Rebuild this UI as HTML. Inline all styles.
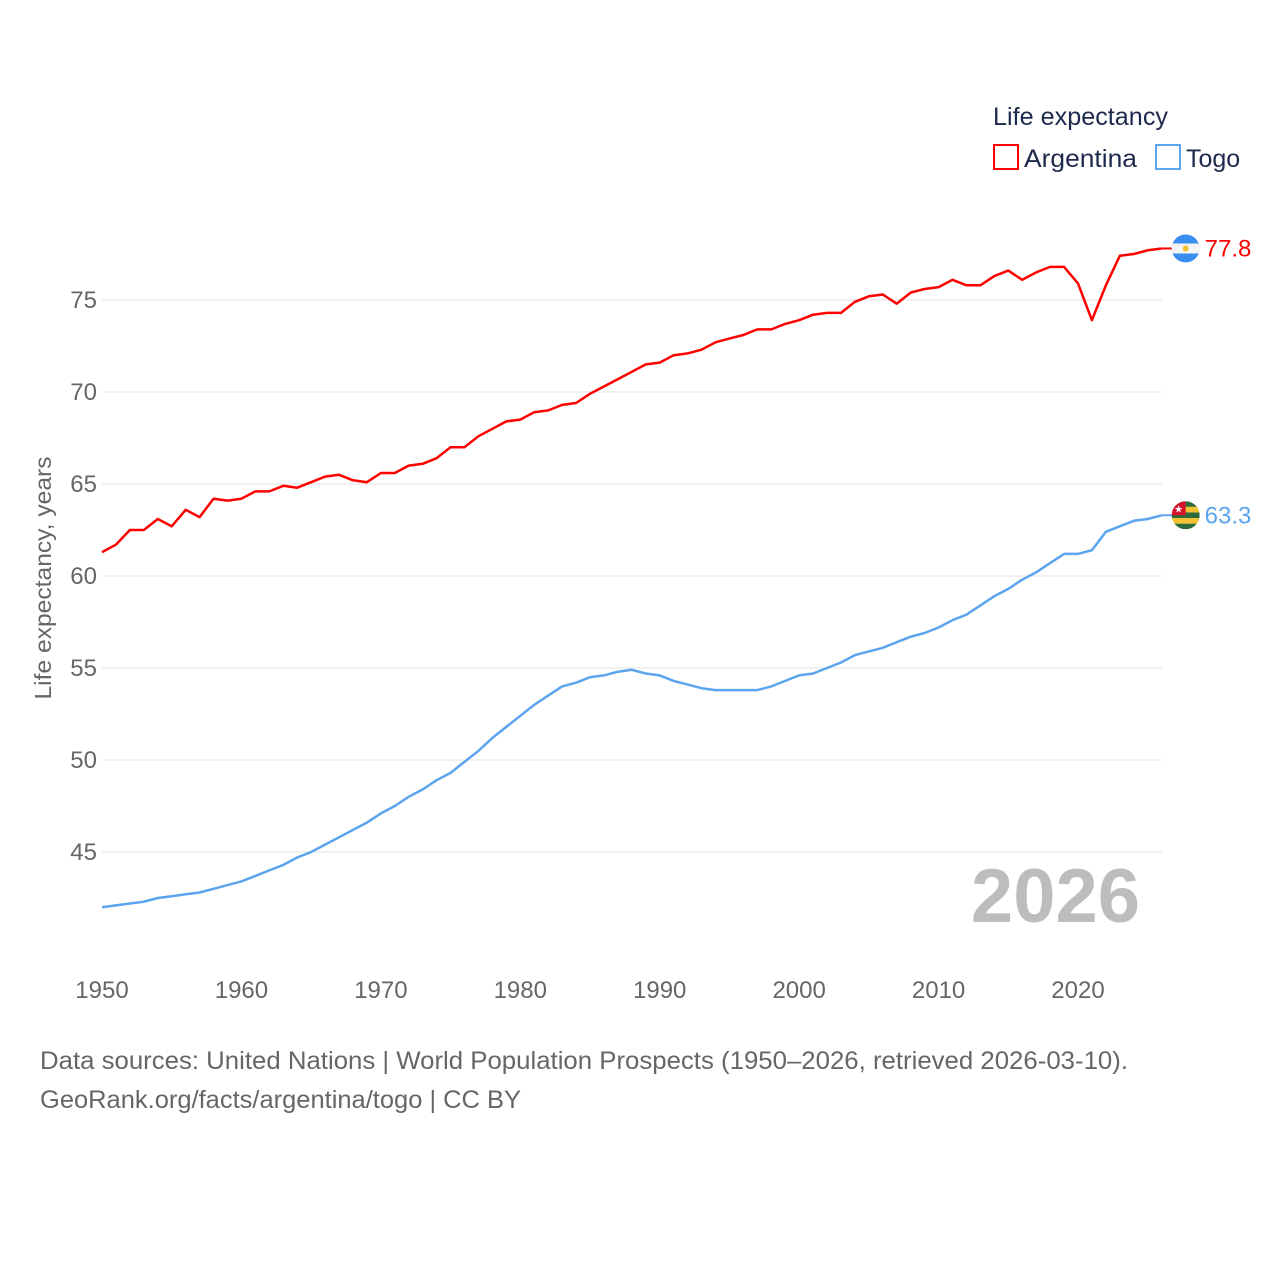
<!DOCTYPE html>
<html><head><meta charset="utf-8"><style>
body{margin:0;background:#fff;}
svg{display:block;font-family:"Liberation Sans",sans-serif;}
</style></head><body>
<svg id="chart" width="1280" height="1280" viewBox="0 0 1280 1280" xmlns="http://www.w3.org/2000/svg">
<g id="grid"></g>
<g id="yticks"></g>
<g id="xticks"></g>
<text transform="translate(51,578) rotate(-90)" text-anchor="middle" font-size="23" fill="#666" textLength="243" lengthAdjust="spacingAndGlyphs">Life expectancy, years</text>
<text x="1140" y="922" text-anchor="end" font-size="76" font-weight="bold" fill="#bdbdbd">2026</text>
<g id="series"></g>
<g>
<text x="993" y="125" font-size="25" fill="#1d2a4d" textLength="175" lengthAdjust="spacingAndGlyphs">Life expectancy</text>
<g><rect x="994" y="145" width="24" height="24" fill="none" stroke="#ff0000" stroke-width="2"/><text x="1024" y="167" font-size="25" fill="#1d2a4d" textLength="113" lengthAdjust="spacingAndGlyphs">Argentina</text></g>
<g><rect x="1156" y="145" width="24" height="24" fill="none" stroke="#5ba4ee" stroke-width="2"/><text x="1186" y="167" font-size="25" fill="#1d2a4d">Togo</text></g>
</g>
<text x="40" y="1069" font-size="25" fill="#666" textLength="1088" lengthAdjust="spacingAndGlyphs">Data sources: United Nations | World Population Prospects (1950–2026, retrieved 2026-03-10).</text>
<text x="40" y="1108" font-size="25" fill="#666" textLength="481" lengthAdjust="spacingAndGlyphs">GeoRank.org/facts/argentina/togo | CC BY</text>
</svg>
<script>
const years = [];
for (let y = 1950; y <= 2026; y++) years.push(y);
const argentina = [61.3,61.7,62.5,62.5,63.1,62.7,63.6,63.2,64.2,64.1,64.2,64.6,64.6,64.9,64.8,65.1,65.4,65.5,65.2,65.1,65.6,65.6,66.0,66.1,66.4,67.0,67.0,67.6,68.0,68.4,68.5,68.9,69.0,69.3,69.4,69.9,70.3,70.7,71.1,71.5,71.6,72.0,72.1,72.3,72.7,72.9,73.1,73.4,73.4,73.7,73.9,74.2,74.3,74.3,74.9,75.2,75.3,74.8,75.4,75.6,75.7,76.1,75.8,75.8,76.3,76.6,76.1,76.5,76.8,76.8,75.9,73.9,75.8,77.4,77.5,77.7,77.8];
const togo = [42.0,42.1,42.2,42.3,42.5,42.6,42.7,42.8,43.0,43.2,43.4,43.7,44.0,44.3,44.7,45.0,45.4,45.8,46.2,46.6,47.1,47.5,48.0,48.4,48.9,49.3,49.9,50.5,51.2,51.8,52.4,53.0,53.5,54.0,54.2,54.5,54.6,54.8,54.9,54.7,54.6,54.3,54.1,53.9,53.8,53.8,53.8,53.8,54.0,54.3,54.6,54.7,55.0,55.3,55.7,55.9,56.1,56.4,56.7,56.9,57.2,57.6,57.9,58.4,58.9,59.3,59.8,60.2,60.7,61.2,61.2,61.4,62.4,62.7,63.0,63.1,63.3];
const yTicks = [45,50,55,60,65,70,75];
const xTicks = [1950,1960,1970,1980,1990,2000,2010,2020];

const NS = "http://www.w3.org/2000/svg";
const xs = v => 102 + (v - 1950) * (976 / 70);
const ys = v => 300 - (v - 75) * 18.4;
function mk(tag, attrs, parent) {
  const e = document.createElementNS(NS, tag);
  for (const k in attrs) e.setAttribute(k, attrs[k]);
  parent.appendChild(e); return e;
}
const grid = document.getElementById('grid'), yt = document.getElementById('yticks'), xt = document.getElementById('xticks'), ser = document.getElementById('series');
yTicks.forEach(t => {
  const l = mk('line', {x1: 102, x2: 1162, y1: ys(t), y2: ys(t), stroke: '#ebebeb', 'stroke-width': 1.5}, grid);
  
  
  const tx = mk('text', {x: 97, y: ys(t) + 8, 'text-anchor': 'end', 'font-size': 24, fill: '#666'}, yt);
  tx.textContent = t;
  
  
});
xTicks.forEach(t => {
  const tx = mk('text', {x: xs(t), y: 998, 'text-anchor': 'middle', 'font-size': 24, fill: '#666'}, xt);
  tx.textContent = t;
  
  
});
function drawLine(vals, color, name) {
  const d = vals.map((v, i) => (i ? 'L' : 'M') + xs(years[i]).toFixed(1) + ',' + ys(v).toFixed(1)).join('');
  const p = mk('path', {d: d, fill: 'none', stroke: color, 'stroke-width': 2.5, 'stroke-linejoin': 'round'}, ser);
  
  
  const last = vals[vals.length - 1];
  const lx = xs(years[years.length - 1]), ly = ys(last);
  mk('line', {x1: lx, x2: lx + 12, y1: ly, y2: ly, stroke: color, 'stroke-width': 2}, ser);
  return [lx + 24, ly, last];
}
const [ax, ay, av] = drawLine(argentina, '#ff0000', 'argentina');
const [tx2, ty2, tv] = drawLine(togo, '#5ba4ee', 'togo');
const fa = mk('g', {}, ser);


mk('clipPath', {id: 'ca'}, fa).appendChild(document.createElementNS(NS, 'circle'));
const ca = fa.querySelector('#ca circle'); ca.setAttribute('cx', ax); ca.setAttribute('cy', ay); ca.setAttribute('r', 14);
const ga = mk('g', {'clip-path': 'url(#ca)'}, fa);
mk('rect', {x: ax - 14, y: ay - 14, width: 28, height: 28, fill: '#3a8ef0'}, ga);
mk('rect', {x: ax - 14, y: ay - 5, width: 28, height: 10, fill: '#f4f4f4'}, ga);
mk('circle', {cx: ax, cy: ay, r: 3, fill: '#f5c22a'}, ga);
const ft = mk('g', {}, ser);


mk('clipPath', {id: 'ct'}, ft).appendChild(document.createElementNS(NS, 'circle'));
const ct = ft.querySelector('#ct circle'); ct.setAttribute('cx', tx2); ct.setAttribute('cy', ty2); ct.setAttribute('r', 14);
const gt = mk('g', {'clip-path': 'url(#ct)'}, ft);
for (let i = 0; i < 5; i++) mk('rect', {x: tx2 - 14, y: ty2 - 14 + i * 5.6, width: 28, height: 5.6, fill: i % 2 ? '#f2c230' : '#2e6b3a'}, gt);
mk('rect', {x: tx2 - 14, y: ty2 - 14, width: 14, height: 14, fill: '#d4132b'}, gt);
mk('text', {x: tx2 - 7, y: ty2 - 3, 'text-anchor': 'middle', 'font-size': 10, fill: '#fff'}, gt).textContent = '★';
const la = mk('text', {x: ax + 19, y: ay + 8, 'font-size': 24, fill: '#ff0000'}, ser);
la.textContent = av.toFixed(1);


const lt = mk('text', {x: tx2 + 19, y: ty2 + 8, 'font-size': 24, fill: '#5ba4ee'}, ser);
lt.textContent = tv.toFixed(1);


</script>
</body></html>
